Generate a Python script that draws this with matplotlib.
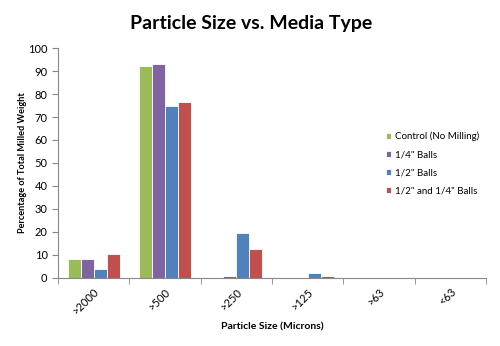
import matplotlib
matplotlib.use("Agg")
import matplotlib.pyplot as plt
import numpy as np

plt.rcParams["font.family"] = ["Lato", "DejaVu Sans"]

categories = [">2000", ">500", ">250", ">125", ">63", "<63"]
series_names = ["Control (No Milling)", "1/4\" Balls", "1/2\" Balls", "1/2\" and 1/4\" Balls"]
control = [8.0, 92.0, 0.0, 0.0, 0.0, 0.0]
quarter = [8.0, 93.0, 1.0, 0.0, 0.0, 0.0]
half = [4.0, 75.0, 19.3, 2.0, 0.0, 0.0]
both = [10.3, 76.5, 12.5, 1.0, 0.0, 0.0]
colors = ["#9BBB59", "#8064A2", "#4F81BD", "#C0504D"]

fig = plt.figure(figsize=(5, 3.46), dpi=100)
ax = fig.add_axes([0.116, 0.197, 0.856, 0.664])

x = np.arange(len(categories))
w = 0.183
for i, (vals, name, c) in enumerate(zip([control, quarter, half, both], series_names, colors)):
    ax.bar(x + (i - 1.5) * w, vals, w, color=c, label=name, edgecolor="white", linewidth=0.6)

ax.set_xlim(-0.5, len(categories) - 0.5)
ax.set_ylim(0, 100)
ax.set_yticks(range(0, 101, 10))
ax.set_xticks(x)
ax.set_xticklabels(categories, rotation=45, ha="right", rotation_mode="anchor", fontsize=8)
ax.set_xticks(np.arange(-0.5, len(categories)), minor=True)
ax.tick_params(axis="x", which="major", length=0, pad=6)
ax.tick_params(axis="x", which="minor", length=4, color="#888888", direction="out")
ax.tick_params(axis="y", length=4, color="#888888", direction="out", labelsize=8)

for s in ["top", "right"]:
    ax.spines[s].set_visible(False)
for s in ["left", "bottom"]:
    ax.spines[s].set_color("#888888")
    ax.spines[s].set_linewidth(0.8)

ax.set_ylabel("Percentage of Total Milled Weight", fontsize=6.6, fontweight="bold", labelpad=1)
ax.set_xlabel("Particle Size (Microns)", fontsize=7.5, fontweight="bold", labelpad=4)
fig.text(0.502, 0.933, "Particle Size vs. Media Type", ha="center", va="center",
         fontsize=14, fontweight="bold")

ax.legend(loc="upper left", bbox_to_anchor=(0.745, 0.675), frameon=False, fontsize=7,
          handlelength=0.6, handleheight=0.6, handletextpad=0.4, labelspacing=0.95)

fig.savefig("out.png", dpi=100)
